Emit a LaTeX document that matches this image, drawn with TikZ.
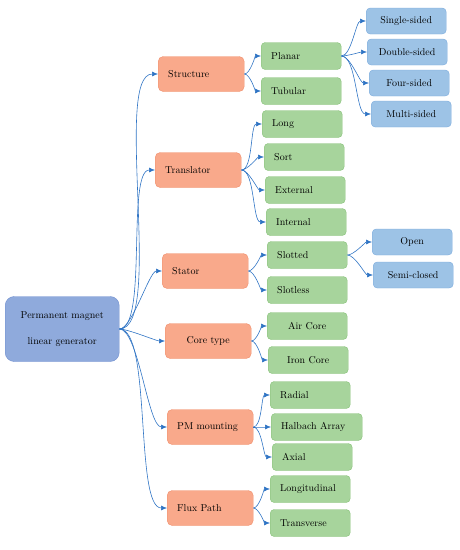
\documentclass[tikz,border=0pt]{standalone}
\usetikzlibrary{arrows.meta}
\definecolor{rootfill}{HTML}{8FAADC}
\definecolor{rootline}{HTML}{6F8ECF}
\definecolor{catfill}{HTML}{F9A98B}
\definecolor{catline}{HTML}{F08D6A}
\definecolor{subfill}{HTML}{A7D49C}
\definecolor{subline}{HTML}{85C076}
\definecolor{leaffill}{HTML}{9DC3E6}
\definecolor{leafline}{HTML}{7BABDD}
\definecolor{linkblue}{HTML}{2F74C4}
\begin{document}
\begin{tikzpicture}[x=1pt,y=-1pt,>={Latex[length=6pt,width=5pt]},
        rootbox/.style={draw=rootline,fill=rootfill,rounded corners=9pt,text width=98pt,inner xsep=8pt,minimum height=65pt,align=center,anchor=west},
        catbox/.style={draw=catline,fill=catfill,rounded corners=5pt,text width=66pt,inner xsep=10pt,minimum height=35pt,align=left,anchor=west},
        subbox/.style={draw=subline,fill=subfill,rounded corners=4pt,text width=60pt,inner xsep=10pt,minimum height=27pt,align=left,anchor=west},
        leafbox/.style={draw=leafline,fill=leaffill,rounded corners=4pt,text width=60pt,inner xsep=10pt,minimum height=26pt,align=center,anchor=west},
        link/.style={->,draw=linkblue,line width=0.6pt,out=0,in=180,looseness=0.6}]
        \useasboundingbox (0,0) rectangle (460,550);
        \node[rootbox] (pmlg) at (5,329) {Permanent magnet\\[14pt]linear generator};
        \node[catbox] (structure) at (158,74) {Structure};
        \node[catbox] (translator) at (155,170) {Translator};
        \node[catbox] (stator) at (162,271) {Stator};
        \node[catbox,align=center] (coretype) at (165,341) {Core type};
        \node[catbox] (pmmount) at (167,427) {PM mounting};
        \node[catbox] (fluxpath) at (167,508) {Flux Path};
        \node[subbox] (planar) at (261,56) {Planar};
        \node[subbox] (tubular) at (261,91) {Tubular};
        \node[subbox] (long) at (262,124) {Long};
        \node[subbox] (sort) at (264,157) {Sort};
        \node[subbox] (external) at (265,190) {External};
        \node[subbox] (internal) at (266,222) {Internal};
        \node[subbox] (slotted) at (267,255) {Slotted};
        \node[subbox] (slotless) at (267,290) {Slotless};
        \node[subbox,align=center] (aircore) at (267,326) {Air Core};
        \node[subbox,align=center] (ironcore) at (268,360) {Iron Core};
        \node[subbox] (radial) at (270,395) {Radial};
        \node[subbox,text width=71pt] (halbach) at (271,427) {Halbach Array};
        \node[subbox] (axial) at (272,457) {Axial};
        \node[subbox] (longit) at (270,489) {Longitudinal};
        \node[subbox] (transverse) at (270,523) {Transverse};
        \node[leafbox] (single) at (366,21) {Single-sided};
        \node[leafbox] (double) at (367,52) {Double-sided};
        \node[leafbox] (four) at (369,83) {Four-sided};
        \node[leafbox] (multi) at (371,114) {Multi-sided};
        \node[leafbox] (open) at (372,242) {Open};
        \node[leafbox] (semiclosed) at (373,275) {Semi-closed};
        \draw[link,looseness=0.45] (pmlg.east) to (structure.west);
        \draw[link,looseness=0.45] (pmlg.east) to (translator.west);
        \draw[link,looseness=0.45] (pmlg.east) to (stator.west);
        \draw[link,looseness=0.45] (pmlg.east) to (coretype.west);
        \draw[link,looseness=0.45] (pmlg.east) to (pmmount.west);
        \draw[link,looseness=0.45] (pmlg.east) to (fluxpath.west);
        \draw[link] (structure.east) to (planar.west);
        \draw[link] (structure.east) to (tubular.west);
        \draw[link] (translator.east) to (long.west);
        \draw[link] (translator.east) to (sort.west);
        \draw[link] (translator.east) to (external.west);
        \draw[link] (translator.east) to (internal.west);
        \draw[link] (stator.east) to (slotted.west);
        \draw[link] (stator.east) to (slotless.west);
        \draw[link] (coretype.east) to (aircore.west);
        \draw[link] (coretype.east) to (ironcore.west);
        \draw[link] (pmmount.east) to (radial.west);
        \draw[link] (pmmount.east) to (halbach.west);
        \draw[link] (pmmount.east) to (axial.west);
        \draw[link] (fluxpath.east) to (longit.west);
        \draw[link] (fluxpath.east) to (transverse.west);
        \draw[link] (planar.east) to (single.west);
        \draw[link] (planar.east) to (double.west);
        \draw[link] (planar.east) to (four.west);
        \draw[link] (planar.east) to (multi.west);
        \draw[link] (slotted.east) to (open.west);
        \draw[link] (slotted.east) to (semiclosed.west);
\end{tikzpicture}
\end{document}
